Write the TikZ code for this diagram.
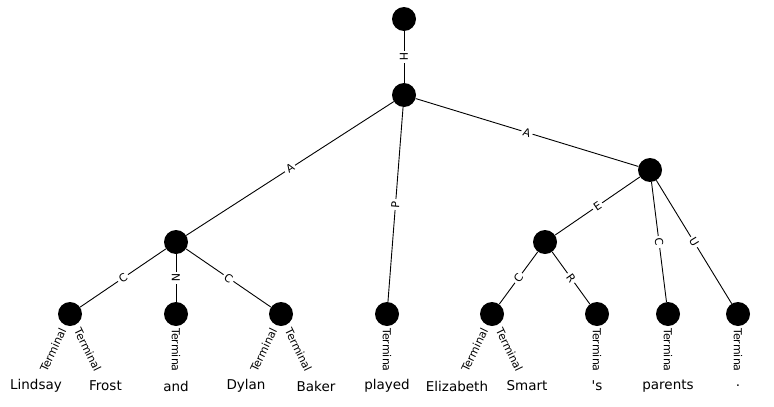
\documentclass[tikz,border=0pt]{standalone}
\usepackage{fontspec}
\setmainfont{DejaVu Sans}
\begin{document}
\begin{tikzpicture}[x=1pt,y=-1pt,
  dot/.style={circle,fill=black,minimum size=24pt,inner sep=0pt},
  word/.style={font=\fontsize{13.5}{16}\selectfont,inner sep=0pt},
  elab/.style={midway,sloped,fill=white,inner sep=2pt,font=\fontsize{11}{13}\selectfont},
  tlab/.style={midway,sloped,inner sep=0pt,font=\fontsize{11}{13}\selectfont},
  edge/.style={draw=black,line width=0.9pt}]
\useasboundingbox (0,0) rectangle (774,407);
% structural nodes
\node[dot] (r) at (404,19) {};
\node[dot] (m) at (404,95) {};
\node[dot] (a1) at (176,242) {};
\node[dot] (a2) at (650,170) {};
\node[dot] (e) at (545,242) {};
\node[dot] (l1) at (70,314) {};
\node[dot] (l2) at (176,314) {};
\node[dot] (l3) at (281,314) {};
\node[dot] (l4) at (387,314) {};
\node[dot] (l5) at (492,314) {};
\node[dot] (l6) at (597,314) {};
\node[dot] (l7) at (668,314) {};
\node[dot] (l8) at (738,314) {};
% words
\node[word] (w1) at (36,386) {Lindsay};
\node[word] (w2) at (105.5,386) {Frost};
\node[word] (w3) at (176,386) {and};
\node[word] (w4) at (246,386) {Dylan};
\node[word] (w5) at (316,386) {Baker};
\node[word] (w6) at (387,386) {played};
\node[word] (w7) at (457,386) {Elizabeth};
\node[word] (w8) at (527,386) {Smart};
\node[word] (w9) at (597,386) {\textquotesingle s};
\node[word] (w10) at (668,386) {parents};
\node[word] (w11) at (738,386) {.};
% edges
\draw[edge] (r) -- (m) node[elab] {H};
\draw[edge] (m) -- (a1) node[elab] {A};
\draw[edge] (m) -- (l4) node[elab] {P};
\draw[edge] (m) -- (a2) node[elab] {A};
\draw[edge] (a1) -- (l1) node[elab] {C};
\draw[edge] (a1) -- (l2) node[elab] {N};
\draw[edge] (a1) -- (l3) node[elab] {C};
\draw[edge] (a2) -- (e) node[elab] {E};
\draw[edge] (a2) -- (l7) node[elab] {C};
\draw[edge] (a2) -- (l8) node[elab] {U};
\draw[edge] (e) -- (l5) node[elab] {C};
\draw[edge] (e) -- (l6) node[elab] {R};
% terminal labels (invisible edges)
\path (l1.center) -- (w1.center) node[tlab] {Terminal};
\path (l1.center) -- (w2.center) node[tlab] {Terminal};
\path (l2.center) -- (w3.center) node[tlab] {Termina};
\path (l3.center) -- (w4.center) node[tlab] {Terminal};
\path (l3.center) -- (w5.center) node[tlab] {Terminal};
\path (l4.center) -- (w6.center) node[tlab] {Termina};
\path (l5.center) -- (w7.center) node[tlab] {Terminal};
\path (l5.center) -- (w8.center) node[tlab] {Terminal};
\path (l6.center) -- (w9.center) node[tlab] {Termina};
\path (l7.center) -- (w10.center) node[tlab] {Termina};
\path (l8.center) -- (w11.center) node[tlab] {Termina};
\end{tikzpicture}
\end{document}
